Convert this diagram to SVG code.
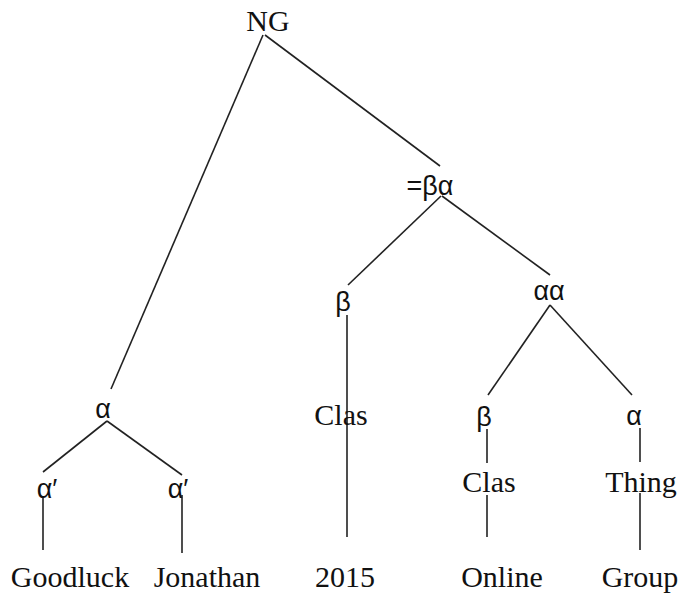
<svg xmlns="http://www.w3.org/2000/svg" width="681" height="593" viewBox="0 0 681 593">
<style>
.w{font-family:"Liberation Serif","Times New Roman",serif;font-size:30px;fill:#111;text-anchor:middle}
.g{font-family:"Liberation Sans",Arial,sans-serif;font-size:27px;fill:#111;text-anchor:middle}
.c line{stroke:#222;stroke-width:1.6;fill:none}
</style>
<rect width="681" height="593" fill="#fff"/>
<g class="c" id="connectors">
<line x1="263" y1="35" x2="111" y2="389"/>
<line x1="265" y1="35" x2="440" y2="166"/>
<line x1="441" y1="196" x2="348" y2="285"/>
<line x1="442" y1="196" x2="550" y2="275"/>
<line x1="550" y1="305" x2="488" y2="395"/>
<line x1="550" y1="305" x2="632" y2="395"/>
<line x1="107" y1="421" x2="43" y2="472"/>
<line x1="107" y1="421" x2="182" y2="475"/>
<line x1="43" y1="498" x2="43" y2="550"/>
<line x1="182" y1="495" x2="182" y2="553"/>
<line x1="347" y1="315" x2="347" y2="537"/>
<line x1="487" y1="429" x2="487" y2="463"/>
<line x1="487" y1="495" x2="487" y2="537"/>
<line x1="640" y1="428" x2="640" y2="462"/>
<line x1="640" y1="493" x2="640" y2="550"/>
</g>
<g id="n-ng"><text class="w" x="268" y="31">NG</text></g>
<g id="n-ba"><text class="g" x="430" y="195">=βα</text></g>
<g id="n-beta1"><text class="g" x="343" y="311">β</text></g>
<g id="n-aa"><text class="g" x="549" y="300">αα</text></g>
<g id="n-alpha1"><text class="g" x="103" y="418">α</text></g>
<g id="n-clas1"><text class="w" x="341" y="425">Clas</text></g>
<g id="n-beta2"><text class="g" x="484" y="426">β</text></g>
<g id="n-alpha2"><text class="g" x="634" y="425">α</text></g>
<g id="n-ap1"><text class="g" x="47" y="498">α′</text></g>
<g id="n-ap2"><text class="g" x="178" y="498">α′</text></g>
<g id="n-clas2"><text class="w" x="489" y="492">Clas</text></g>
<g id="n-thing"><text class="w" x="641" y="492">Thing</text></g>
<g id="n-goodluck"><text class="w" x="70" y="587">Goodluck</text></g>
<g id="n-jonathan"><text class="w" x="207" y="587">Jonathan</text></g>
<g id="n-2015"><text class="w" x="345" y="587">2015</text></g>
<g id="n-online"><text class="w" x="502" y="587">Online</text></g>
<g id="n-group"><text class="w" x="640" y="587">Group</text></g>
</svg>
